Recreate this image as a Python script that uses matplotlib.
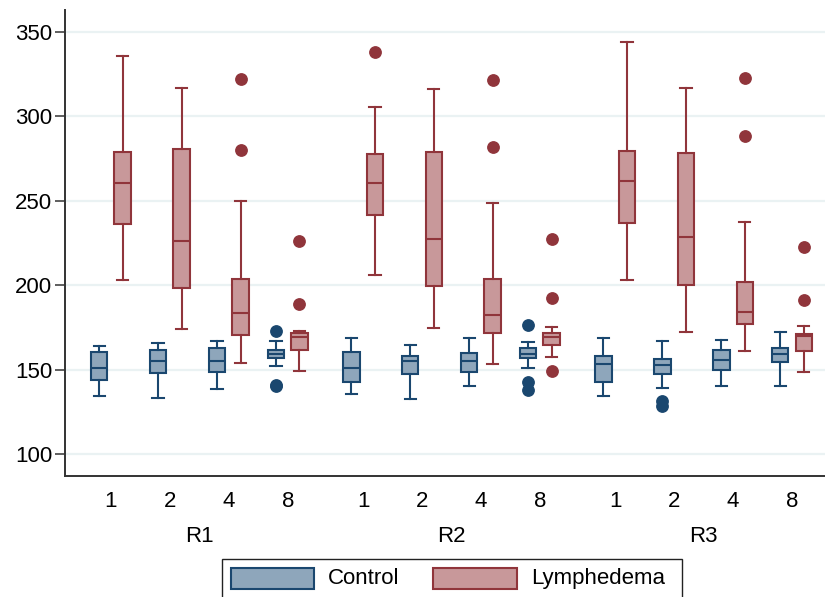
import matplotlib
matplotlib.use("Agg")
import matplotlib.pyplot as plt
from matplotlib.patches import Rectangle
import matplotlib.transforms as mtransforms

plt.rcParams['font.family'] = ['Liberation Sans', 'DejaVu Sans']

groups = ["R1", "R2", "R3"]
cats = ["1", "2", "4", "8"]
series = ["Control", "Lymphedema"]

# Order: R1(1,2,4,8), R2(1,2,4,8), R3(1,2,4,8)
control_lo  = [134.2, 133.2, 138.3, 152.0, 135.5, 132.6, 140.0, 150.7, 134.5, 138.9, 140.0, 140.3]
control_q1  = [143.6, 148.0, 148.6, 156.6, 142.4, 147.2, 148.4, 156.6, 142.8, 147.2, 149.5, 154.3]
control_med = [150.7, 155.3, 155.3, 159.0, 151.1, 155.0, 155.0, 159.2, 153.3, 152.9, 155.7, 159.0]
control_q3  = [160.2, 161.6, 162.6, 161.6, 160.2, 158.0, 159.6, 163.0, 158.2, 156.4, 161.8, 163.0]
control_hi  = [164.1, 166.0, 167.0, 167.0, 168.5, 164.5, 168.5, 166.5, 168.9, 166.9, 167.3, 172.4]
control_out = [[], [], [], [173.0, 141.0, 140.0],
               [], [], [], [176.4, 142.8, 137.9],
               [], [131.5, 128.5], [], []]

lymph_lo  = [203.0, 174.0, 154.0, 149.3, 206.0, 174.4, 153.0, 157.6, 203.0, 172.4, 160.8, 148.4]
lymph_q1  = [236.0, 198.0, 170.7, 161.6, 241.5, 199.5, 171.8, 164.5, 236.5, 200.0, 177.0, 161.0]
lymph_med = [260.6, 226.1, 183.3, 169.5, 260.6, 227.3, 182.3, 169.0, 261.6, 228.3, 184.3, 170.0]
lymph_q3  = [279.0, 280.4, 203.6, 171.8, 277.6, 278.6, 203.6, 171.4, 279.4, 278.4, 201.8, 170.8]
lymph_hi  = [335.8, 316.9, 249.8, 173.0, 305.6, 315.9, 248.4, 175.2, 343.9, 316.9, 237.5, 175.8]
lymph_out = [[], [], [322.0, 280.0], [226.0, 188.8],
             [338.0], [], [321.2, 281.7], [227.0, 192.2, 149.3],
             [], [], [322.6, 288.4], [222.5, 191.0]]

yticks = [100, 150, 200, 250, 300, 350]

C_EDGE, C_FILL = "#1a476f", "#8ea6bb"
L_EDGE, L_FILL = "#90353b", "#c8989a"

W, H = 825, 597
fig = plt.figure(figsize=(W / 100, H / 100), dpi=100)
ax_l, ax_b, ax_t = 65 / W, 1 - 476 / H, 1 - 10 / H
ax = fig.add_axes([ax_l, ax_b, 1.0 - ax_l, ax_t - ax_b])

gap = 4.28
centers = [g * gap + i for g in range(len(groups)) for i in range(len(cats))]
off, bw = 0.2, 0.28


def stats(lo, q1, med, q3, hi, out):
    return [dict(whislo=a, q1=b, med=c, q3=d, whishi=e, fliers=f)
            for a, b, c, d, e, f in zip(lo, q1, med, q3, hi, out)]


def draw(st, pos, edge, fill):
    lw = 1.5
    ax.bxp(st, positions=pos, widths=bw, patch_artist=True, showfliers=True,
           boxprops=dict(facecolor=fill, edgecolor=edge, linewidth=lw),
           medianprops=dict(color=edge, linewidth=lw),
           whiskerprops=dict(color=edge, linewidth=lw),
           capprops=dict(color=edge, linewidth=lw),
           flierprops=dict(marker='o', markerfacecolor=edge, markeredgecolor=edge,
                           markersize=8.2, linestyle='none'),
           capwidths=bw * 0.68, manage_ticks=False, zorder=3)


draw(stats(control_lo, control_q1, control_med, control_q3, control_hi, control_out),
     [c - off for c in centers], C_EDGE, C_FILL)
draw(stats(lymph_lo, lymph_q1, lymph_med, lymph_q3, lymph_hi, lymph_out),
     [c + off for c in centers], L_EDGE, L_FILL)

ax.set_ylim(87.0, 362.8)
ax.set_xlim(-0.78, 12.12)
ax.set_yticks(yticks)
ax.set_yticklabels([str(v) for v in yticks], fontsize=16)
ax.yaxis.grid(True, color="#eaf2f3", linewidth=1.6, zorder=0)
ax.set_axisbelow(True)
ax.tick_params(axis='y', length=7, width=1.1, color="#333333", pad=2)

ax.set_xticks(centers)
ax.set_xticklabels(cats * len(groups), fontsize=16)
ax.tick_params(axis='x', length=0, pad=11)

trans = mtransforms.blended_transform_factory(ax.transData, ax.transAxes)
axh = (476 - 10)
for g, name in enumerate(groups):
    xc = g * gap + 1.5
    ax.text(xc, (476 - 537) / axh, name, transform=trans, ha='center', va='center',
            fontsize=16)

for s in ['top', 'right']:
    ax.spines[s].set_visible(False)
for s in ['left', 'bottom']:
    ax.spines[s].set_color("#333333")
    ax.spines[s].set_linewidth(1.4)


def fx(x):
    return x / W


def fy(y):
    return 1 - y / H


fig.patches.append(Rectangle((fx(222), fy(605)), fx(682) - fx(222), fy(559) - fy(605),
                             transform=fig.transFigure, facecolor='white',
                             edgecolor='#222222', linewidth=1.0))
fig.patches.append(Rectangle((fx(231), fy(589)), fx(314) - fx(231), fy(568) - fy(589),
                             transform=fig.transFigure, facecolor=C_FILL,
                             edgecolor=C_EDGE, linewidth=1.5))
fig.patches.append(Rectangle((fx(433), fy(589)), fx(517) - fx(433), fy(568) - fy(589),
                             transform=fig.transFigure, facecolor=L_FILL,
                             edgecolor=L_EDGE, linewidth=1.5))
fig.text(fx(328), fy(578.5), series[0], ha='left', va='center', fontsize=16)
fig.text(fx(531), fy(578.5), series[1], ha='left', va='center', fontsize=16)

fig.savefig("out.png", dpi=100, facecolor='white')
